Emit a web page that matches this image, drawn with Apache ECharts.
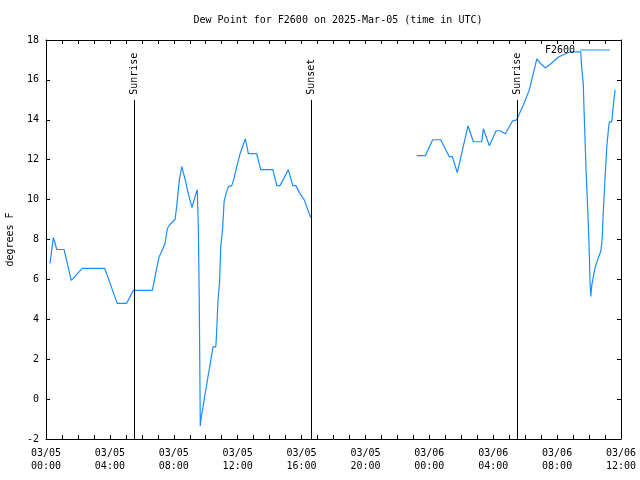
<!DOCTYPE html>
<html>
<head>
<meta charset="utf-8">
<script src="https://cdn.jsdelivr.net/npm/echarts@6/dist/echarts.min.js"></script>
<style>html,body{margin:0;padding:0;background:#fff}#c{width:640px;height:480px}</style>
</head>
<body>
<div id="c"></div>
<script>
// hours since 2025-03-05 00:00 UTC
const seg1Hours = [0.25,0.46,0.54,0.67,1.13,1.58,2.27,3.68,4.46,5.05,5.47,6.66,6.83,6.93,7.09,7.24,7.45,7.6,7.76,8.08,8.18,8.35,8.5,8.7,8.91,9.14,9.33,9.47,9.54,9.6,9.64,9.66,9.72,9.83,9.93,10.04,10.14,10.25,10.35,10.46,10.63,10.67,10.77,10.87,10.94,11.06,11.15,11.27,11.42,11.63,11.77,11.94,12.15,12.48,12.67,13.19,13.44,14.2,14.45,14.65,15.17,15.45,15.65,15.9,16.16,16.32,16.57];
const seg1Values = [6.8,8.1,7.9,7.5,7.5,5.95,6.55,6.55,4.8,4.8,5.45,5.45,6.15,6.55,7.15,7.4,7.8,8.55,8.75,9.0,9.65,11.0,11.65,11.05,10.3,9.6,10.15,10.5,8.5,4.55,0.6,-1.35,-0.9,-0.4,0.12,0.62,1.12,1.62,2.12,2.62,2.62,3.13,4.97,5.89,7.65,8.55,9.9,10.3,10.65,10.7,11.05,11.65,12.3,13.05,12.3,12.3,11.5,11.5,10.7,10.7,11.5,10.7,10.7,10.3,10.0,9.65,9.1];
const seg2Hours = [23.21,23.75,24.21,24.71,25.25,25.44,25.75,26.42,26.76,27.28,27.38,27.76,28.18,28.43,28.76,29.22,29.47,29.89,30.26,30.73,30.93,31.26,31.67,32.08,32.5,32.81,33.48,33.54,33.64,33.69,33.75,33.81,33.89,33.96,34.02,34.06,34.11,34.17,34.27,34.4,34.52,34.73,34.81,34.9,35.0,35.11,35.21,35.27,35.42,35.52,35.63];
const seg2Values = [12.2,12.2,13.0,13.0,12.15,12.15,11.35,13.7,12.9,12.9,13.55,12.7,13.45,13.45,13.3,13.95,14.0,14.75,15.5,17.05,16.85,16.6,16.85,17.15,17.3,17.4,17.4,16.65,15.75,14.4,13.0,11.5,10.05,8.6,7.2,5.85,5.15,5.7,6.15,6.65,6.95,7.4,7.9,9.5,11.05,12.65,13.5,13.9,13.9,14.75,15.5];
const sunEventNames = ['Sunrise','Sunset','Sunrise'];
const sunEventHours = [5.53,16.59,29.51];
const xTickHours = [0,4,8,12,16,20,24,28,32,36];
const xTickLabels = ['03/05\n00:00','03/05\n04:00','03/05\n08:00','03/05\n12:00','03/05\n16:00','03/05\n20:00','03/06\n00:00','03/06\n04:00','03/06\n08:00','03/06\n12:00'];

const data = [];
seg1Hours.forEach((h,i)=>data.push([h, seg1Values[i]]));
data.push([20, '-']);
seg2Hours.forEach((h,i)=>data.push([h, seg2Values[i]]));

const FONT = 'DejaVu Sans Mono';
const LINE_COLOR = '#1a8cff';
const tickLabel = v => { const i = xTickHours.indexOf(v); return i >= 0 ? xTickLabels[i] : ''; };
const axisCommon = () => ({
  axisLine: {show: true, onZero: false, lineStyle: {color: '#000', width: 1}},
  axisTick: {show: true, inside: true, length: 4, lineStyle: {color: '#000'}},
  splitLine: {show: false}
});

const chart = echarts.init(document.getElementById('c'), null, {renderer: 'canvas'});
chart.setOption({
  animation: false,
  backgroundColor: '#fff',
  textStyle: {fontFamily: FONT},
  title: {
    text: 'Dew Point for F2600 on 2025-Mar-05 (time in UTC)',
    left: 333, top: 10, textAlign: 'center',
    textStyle: {fontFamily: FONT, fontSize: 10, fontWeight: 'normal', color: '#000'}
  },
  legend: {
    data: [{name: 'F2600', icon: 'rect'}], right: 30, top: 45, align: 'right', padding: 0,
    itemWidth: 30, itemHeight: 1, itemGap: 5,
    itemStyle: {color: LINE_COLOR},
    textStyle: {fontFamily: FONT, fontSize: 10, color: '#000'}
  },
  grid: {left: 46, right: 19, top: 40, bottom: 41, containLabel: false, outerBoundsMode: 'none'},
  xAxis: [
    Object.assign({type: 'value', min: 0, max: 36, interval: 1, position: 'bottom',
      axisLabel: {formatter: tickLabel, fontFamily: FONT, fontSize: 10, color: '#000', lineHeight: 13, margin: 8, showMinLabel: true, showMaxLabel: true}}, axisCommon()),
    Object.assign({type: 'value', min: 0, max: 36, interval: 1, position: 'top',
      axisLabel: {show: false}}, axisCommon())
  ],
  yAxis: [
    Object.assign({type: 'value', min: -2, max: 18, interval: 2, position: 'left',
      name: 'degrees F', nameLocation: 'middle', nameGap: 31,
      nameTextStyle: {fontFamily: FONT, fontSize: 10, color: '#000'},
      axisLabel: {fontFamily: FONT, fontSize: 10, color: '#000', margin: 7}}, axisCommon()),
    Object.assign({type: 'value', min: -2, max: 18, interval: 2, position: 'right',
      axisLabel: {show: false}}, axisCommon())
  ],
  series: [{
    name: 'F2600', type: 'line', data: data, symbol: 'none', connectNulls: false,
    lineStyle: {color: LINE_COLOR, width: 1.2}, itemStyle: {color: LINE_COLOR},
    markLine: {
      silent: true, symbol: 'none',
      lineStyle: {color: '#000', width: 1, type: 'solid'},
      label: {show: false},
      data: sunEventHours.map(h => [{coord: [h, -2]}, {coord: [h, 15]}])
    },
    markPoint: {
      silent: true, symbol: 'circle', symbolSize: 0,
      label: {show: true, position: 'top', distance: 5, rotate: 90, align: 'left', verticalAlign: 'middle',
        fontFamily: FONT, fontSize: 10, color: '#000', formatter: p => p.name},
      data: sunEventHours.map((h, i) => ({name: sunEventNames[i], coord: [h, 15]}))
    }
  }]
});
</script>
</body>
</html>
